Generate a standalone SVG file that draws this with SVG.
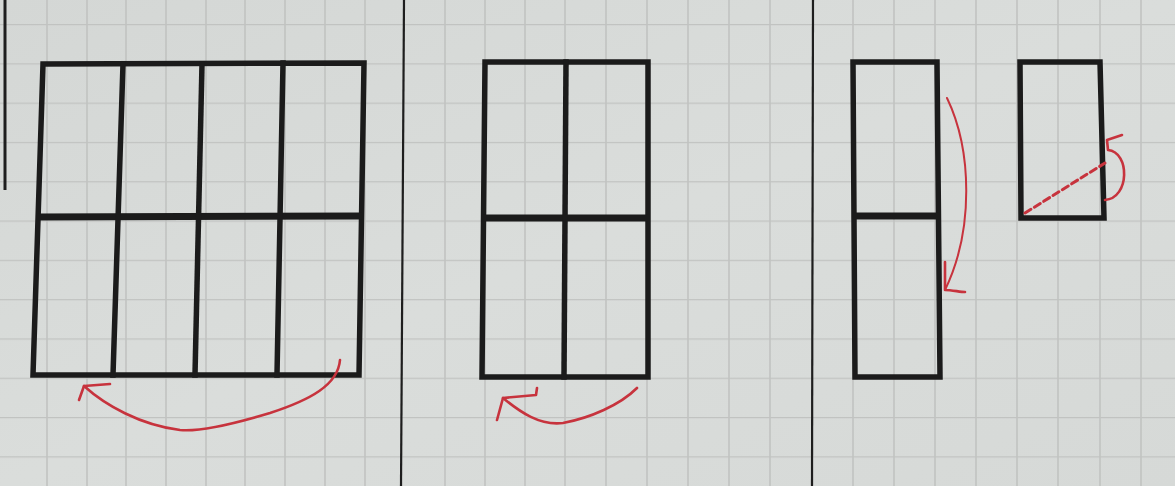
<svg xmlns="http://www.w3.org/2000/svg" width="1175" height="486" viewBox="0 0 1175 486">
<defs>
<pattern id="hgrid" x="0" y="24" width="1175" height="39.3" patternUnits="userSpaceOnUse">
<path d="M0,0.5 H1175" fill="none" stroke="#c1c3c1" stroke-width="1.6"/>
</pattern>
<linearGradient id="bg" x1="0" y1="0" x2="1" y2="1">
<stop offset="0" stop-color="#d4d7d5"/>
<stop offset="0.5" stop-color="#dadddb"/>
<stop offset="1" stop-color="#d6d9d7"/>
</linearGradient>
<style>
.ink{fill:none;stroke:#1b1b1b;stroke-width:5.5;stroke-linejoin:miter;stroke-linecap:square}
.mid{fill:none;stroke:#1b1b1b;stroke-width:7}
.sep{fill:none;stroke:#1e1e1e;stroke-width:2.2}
.red{fill:none;stroke:#c7333d;stroke-width:2.6;stroke-linecap:round;stroke-linejoin:round}
.vg{fill:none;stroke:#c1c3c1;stroke-width:1.6}
</style>
</defs>
<rect width="1175" height="486" fill="url(#bg)"/>
<rect width="1175" height="486" fill="url(#hgrid)"/>
<path class="vg" d="M47,0V486 M87,0V486 M126,0V486 M166,0V486 M206,0V486 M245,0V486 M285,0V486 M325,0V486 M365,0V486 M445,0V486 M485,0V486 M525,0V486 M565,0V486 M606,0V486 M647,0V486 M688,0V486 M729,0V486 M770,0V486 M853,0V486 M894,0V486 M935,0V486 M976,0V486 M1017,0V486 M1058,0V486 M1100,0V486 M1141,0V486"/>
<g id="separators">
<line class="sep" x1="5" y1="0" x2="5" y2="190" style="stroke-width:3"/>
<line class="sep" x1="404" y1="0" x2="401" y2="486"/>
<line class="sep" x1="813" y1="0" x2="812" y2="486"/>
</g>
<g id="panel1">
<polygon class="ink" points="43,64 364,63 359,375 33,375"/>
<line class="mid" x1="38" y1="217" x2="362" y2="216"/>
<line class="ink" x1="123" y1="64" x2="113" y2="375"/>
<line class="ink" x1="202" y1="64" x2="195" y2="375"/>
<line class="ink" x1="283" y1="63" x2="277" y2="375"/>
</g>
<g id="panel2">
<polygon class="ink" points="485,62 648,62 648,377 482,377"/>
<line class="mid" x1="483" y1="218" x2="648" y2="218"/>
<line class="ink" x1="566" y1="62" x2="564" y2="377"/>
</g>
<g id="panel3-tall">
<polygon class="ink" points="853,62 937,62 940,377 855,377"/>
<line class="mid" x1="854" y1="216" x2="938" y2="216"/>
</g>
<g id="panel3-small">
<polygon class="ink" points="1020,62 1100,62 1104,218 1021,218"/>
</g>
<g id="connectors">
<path class="red" d="M340,360 C338,385 310,400 270,413 C230,425 200,432 180,430 C140,425 105,405 84,386"/>
<path class="red" d="M110,384 L84,386 L79,400"/>
<path class="red" d="M637,388 C620,405 590,418 563,423 C540,426 520,412 503,398"/>
<path class="red" d="M537,388 L536,395 L503,398 L497,420"/>
<path class="red" d="M947,98 C972,150 974,230 945,290" style="stroke-width:2"/>
<path class="red" d="M945,262 L945,290 C952,290 960,292 965,292"/>
<path class="red" d="M1025,213 L1105,163" stroke-dasharray="7 4" style="stroke-width:3"/>
<path class="red" d="M1105,200 C1130,198 1130,152 1108,150 L1107,140 L1122,135"/>
</g>
</svg>
